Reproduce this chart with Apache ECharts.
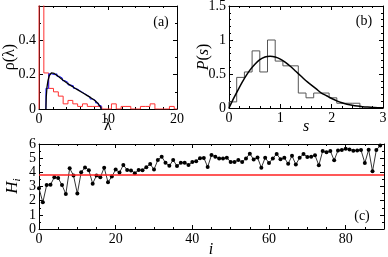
<!DOCTYPE html>
<html><head><meta charset="utf-8">
<script src="https://cdn.jsdelivr.net/npm/echarts/dist/echarts.min.js"></script>
<style>html,body{margin:0;padding:0;background:#fff}#c{width:388px;height:257px}</style>
</head><body><div id="c"></div>
<script>
// ---- panel (a): eigenvalue density ----
const redEdges = [0,0.7,1.4,2.1,2.8,3.5,4.2,4.9,5.6,6.3,7.0,7.7,8.4,9.1,9.8,10.5,11.2,11.9,12.6,13.3,14.0,14.7,15.4,16.1,16.8,17.5,18.2,18.9,19.6,20];
const redVals  = [0.65,0.21,0.12,0.10,0.075,0.03,0.05,0.03,0.015,0.03,0.015,0.015,0.015,0,0,0.03,0,0.015,0.015,0,0,0.015,0.015,0.03,0,0,0,0.015,0];
const blueEdges = [1.0,1.4,1.8,2.2,2.6,3.0,3.4,3.8,4.2,4.6,5.0,5.4,5.8,6.2,6.6,7.0,7.4,7.8,8.2,8.6,9.0];
const blueVals  = [0.12,0.205,0.2,0.205,0.19,0.18,0.165,0.155,0.14,0.135,0.12,0.11,0.1,0.09,0.08,0.07,0.058,0.05,0.035,0.02];
const curveLam = [1.0,1.05,1.15,1.3,1.5,1.8,2.2,2.6,3,3.5,4,4.5,5,5.5,6,6.5,7,7.5,8,8.3,8.6,8.8,8.95,9.0];
const curveRho = [0,0.07,0.125,0.165,0.195,0.21,0.207,0.196,0.184,0.168,0.153,0.139,0.127,0.114,0.102,0.09,0.078,0.066,0.052,0.042,0.03,0.021,0.01,0];
// ---- panel (b): spacing distribution ----
const sEdges = [0,0.15,0.3,0.45,0.6,0.75,0.9,1.05,1.2,1.35,1.5,1.65,1.8,1.95,2.1,2.25,2.4,2.55];
const sVals  = [0.09,0.45,0.53,0.84,0.53,1.0,0.69,0.62,0.62,0.22,0.15,0.22,0.22,0.15,0.07,0.07,0.07];
const curveS = [0,0.1,0.2,0.3,0.4,0.5,0.6,0.7,0.8,0.9,1.0,1.1,1.2,1.3,1.4,1.5,1.6,1.7,1.8,1.9,2.0,2.1,2.2,2.3,2.4,2.5,2.6,2.7,2.8,2.9,3.0];
const curveP = [0,0.155,0.30,0.435,0.55,0.64,0.71,0.75,0.76,0.75,0.72,0.67,0.61,0.54,0.47,0.40,0.34,0.28,0.22,0.18,0.14,0.105,0.077,0.056,0.04,0.028,0.019,0.013,0.009,0.005,0.003];
// ---- panel (c): H_i ----
const Hvals = [2.87,1.88,3.1,3.13,3.65,3.6,3.1,2.47,4.28,3.78,2.5,4.0,4.35,4.15,3.2,3.78,3.65,4.33,3.3,3.7,
  4.2,3.98,4.52,4.17,4.13,3.94,4.17,4.15,4.36,4.58,4.2,4.87,5.1,4.68,4.46,4.87,4.44,4.68,4.68,4.52,
  4.73,4.78,5.0,5.02,4.38,5.22,5.1,4.98,4.98,5.03,4.73,4.73,4.87,4.73,4.98,5.32,4.9,5.05,4.33,5.03,
  4.66,4.98,5.3,4.93,5.03,4.6,5.17,4.55,5.03,5.3,5.08,5.1,5.2,4.5,5.5,5.42,5.5,4.85,5.55,5.57,
  5.67,5.62,5.53,5.55,5.57,4.66,5.6,4.07,5.57,5.9];
const Href = 3.8;
const ticksA = {xMax:20, xInt:10, yMax:0.6, yInt:0.2};
const ticksB = {xMax:3, xInt:1, yMax:1.5, yInt:0.5};
const ticksC = {xMax:90, xInt:20, yMax:6, yInt:1};

function stepPts(edges, vals){
  const p = [[edges[0],0]];
  for(let i=0;i<vals.length;i++){ p.push([edges[i],vals[i]]); p.push([edges[i+1],vals[i]]); }
  p.push([edges[vals.length],0]);
  return p;
}
const FONT = 'Liberation Serif';
function ax(pos, gi, max, interval, minorSplit, showLabel, labelFmt){
  return {
    type:'value', gridIndex:gi, position:pos, min:0, max:max, interval:interval,
    axisLine:{show:true, onZero:false, lineStyle:{color:'#000', width:1}},
    axisTick:{show:true, inside:true, length:4, lineStyle:{color:'#000', width:1}},
    minorTick:{show:true, splitNumber:minorSplit, length:2, lineStyle:{color:'#000', width:1}},
    splitLine:{show:false},
    axisLabel:{show:showLabel, color:'#000', fontFamily:FONT, fontSize:14, margin:(pos==='bottom'?3:3),
      showMaxLabel:labelFmt && labelFmt.hideMax ? false : true, formatter:function(v){return String(+v.toFixed(2));}}
  };
}
const chart = echarts.init(document.getElementById('c'), null, {renderer:'canvas'});
const option = {
  animation:false,
  grid:[
    {left:39, top:6, width:138, height:103, outerBoundsMode:'none'},
    {left:229, top:6, width:154, height:102, outerBoundsMode:'none'},
    {left:39, top:144, width:345, height:85, outerBoundsMode:'none'}
  ],
  xAxis:[
    ax('bottom',0,ticksA.xMax,ticksA.xInt,5,true),
    ax('top',0,ticksA.xMax,ticksA.xInt,5,false),
    ax('bottom',1,ticksB.xMax,ticksB.xInt,5,true),
    ax('top',1,ticksB.xMax,ticksB.xInt,5,false),
    ax('bottom',2,ticksC.xMax,ticksC.xInt,4,true,{hideMax:true}),
    ax('top',2,ticksC.xMax,ticksC.xInt,4,false)
  ],
  yAxis:[
    ax('left',0,ticksA.yMax,ticksA.yInt,2,true,{hideMax:true}),
    ax('right',0,ticksA.yMax,ticksA.yInt,2,false),
    ax('left',1,ticksB.yMax,ticksB.yInt,5,true),
    ax('right',1,ticksB.yMax,ticksB.yInt,5,false),
    ax('left',2,ticksC.yMax,ticksC.yInt,2,true),
    ax('right',2,ticksC.yMax,ticksC.yInt,2,false)
  ],
  series:[
    {type:'line', xAxisIndex:0, yAxisIndex:0, data:stepPts(redEdges,redVals), showSymbol:false, clip:true,
      lineStyle:{color:'#ff3030', width:1}},
    {type:'line', xAxisIndex:0, yAxisIndex:0, data:stepPts(blueEdges,blueVals), showSymbol:false, clip:true,
      lineStyle:{color:'#2020ff', width:1}},
    {type:'line', xAxisIndex:0, yAxisIndex:0, data:curveLam.map((x,i)=>[x,curveRho[i]]), showSymbol:false,
      lineStyle:{color:'#000', width:1.3}},
    {type:'line', xAxisIndex:2, yAxisIndex:2, data:stepPts(sEdges,sVals), showSymbol:false,
      lineStyle:{color:'#555', width:1}},
    {type:'line', xAxisIndex:2, yAxisIndex:2, data:curveS.map((x,i)=>[x,curveP[i]]), showSymbol:false, smooth:0.3,
      lineStyle:{color:'#000', width:1.5}},
    {type:'line', xAxisIndex:4, yAxisIndex:4, data:Hvals.map((v,i)=>[i,v]), symbol:'circle', symbolSize:4,
      itemStyle:{color:'#000'}, lineStyle:{color:'#333', width:1},
      markLine:{silent:true, symbol:'none', label:{show:false}, lineStyle:{color:'#ff2020', width:1.5, type:'solid'},
        data:[{yAxis:Href}]}}
  ],
  graphic:[
    {type:'text', x:10, y:57, rotation:Math.PI/2, style:{text:'ρ(λ)', font:'16px "Liberation Serif"', fill:'#000', align:'center', verticalAlign:'middle', textAlign:'center', textVerticalAlign:'middle'}},
    {type:'text', x:108, y:126, style:{text:'λ', font:'16px "Liberation Serif"', fill:'#000', align:'center', verticalAlign:'middle', textAlign:'center', textVerticalAlign:'middle'}},
    {type:'text', x:161, y:22, style:{text:'(a)', font:'14px "Liberation Serif"', fill:'#000', align:'center', verticalAlign:'middle', textAlign:'center', textVerticalAlign:'middle'}},
    {type:'text', x:204, y:57, rotation:Math.PI/2, style:{text:'{i|P}{n|(}{i|s}{n|)}', fill:'#000', align:'center', verticalAlign:'middle', textAlign:'center', textVerticalAlign:'middle',
      rich:{i:{font:'italic 16px "Liberation Serif"', fill:'#000'}, n:{font:'16px "Liberation Serif"', fill:'#000'}}}},
    {type:'text', x:306, y:127, style:{text:'s', font:'italic 16px "Liberation Serif"', fill:'#000', align:'center', verticalAlign:'middle', textAlign:'center', textVerticalAlign:'middle'}},
    {type:'text', x:364, y:21, style:{text:'(b)', font:'14px "Liberation Serif"', fill:'#000', align:'center', verticalAlign:'middle', textAlign:'center', textVerticalAlign:'middle'}},
    {type:'text', x:13, y:186, rotation:Math.PI/2, style:{text:'{i|H}{s|i}', fill:'#000', align:'center', verticalAlign:'middle', textAlign:'center', textVerticalAlign:'middle',
      rich:{i:{font:'italic 17px "Liberation Serif"', fill:'#000'}, s:{font:'italic 11px "Liberation Serif"', fill:'#000', padding:[8,0,0,0]}}}},
    {type:'text', x:211, y:250, style:{text:'i', font:'italic 16px "Liberation Serif"', fill:'#000', align:'center', verticalAlign:'middle', textAlign:'center', textVerticalAlign:'middle'}},
    {type:'text', x:362, y:216, style:{text:'(c)', font:'14px "Liberation Serif"', fill:'#000', align:'center', verticalAlign:'middle', textAlign:'center', textVerticalAlign:'middle'}}
  ]
};
chart.setOption(option);
</script></body></html>
